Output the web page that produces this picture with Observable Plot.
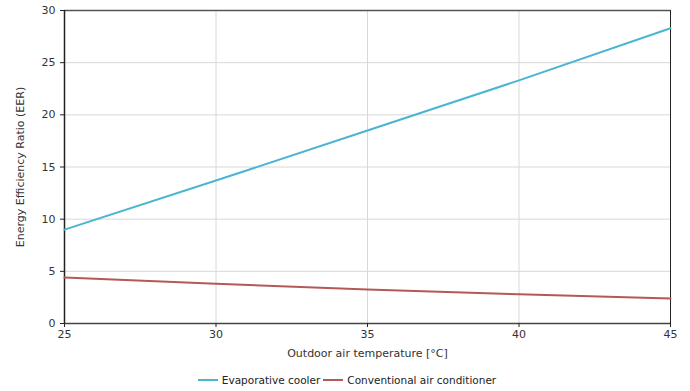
<!DOCTYPE html>
<html><head><meta charset="utf-8">
<script src="https://cdn.jsdelivr.net/npm/d3@7"></script>
<script src="https://cdn.jsdelivr.net/npm/@observablehq/plot@0.6"></script>
<style>
body{margin:0;background:#fff;font-family:"DejaVu Sans",Verdana,sans-serif;}
#legend{display:flex;justify-content:center;gap:3px;font-size:10.5px;color:#222;margin-top:9px;padding-left:4px;}
.item{display:flex;align-items:center;gap:4px;}
.sw{width:20px;height:2px;display:inline-block;}
</style></head><body>
<div id="chart"></div>
<div id="legend"></div>
<script>
const temps = [25, 30, 35, 40, 45];
const evaporative = [9.0, 13.7, 18.5, 23.3, 28.3];
const conventional = [4.4, 3.8, 3.25, 2.8, 2.4];
const seriesNames = ["Evaporative cooler", "Conventional air conditioner"];
const colors = ["#4bb5d0", "#b55858"];
const xTicks = [25, 30, 35, 40, 45];
const yTicks = [0, 5, 10, 15, 20, 25, 30];

const data = [];
temps.forEach((t, i) => data.push({t, v: evaporative[i], s: seriesNames[0]}));
temps.forEach((t, i) => data.push({t, v: conventional[i], s: seriesNames[1]}));

const plot = Plot.plot({
  width: 690, height: 365,
  marginLeft: 64, marginRight: 20, marginTop: 10, marginBottom: 42,
  style: {fontFamily: "DejaVu Sans, Verdana, sans-serif", fontSize: "11px", color: "#333"},
  x: {domain: [25, 45]},
  y: {domain: [0, 30]},
  color: {domain: seriesNames, range: colors},
  marks: [
    Plot.gridX(xTicks.slice(1, -1), {stroke: "#d8d8d8", strokeOpacity: 1}),
    Plot.gridY(yTicks.slice(1, -1), {stroke: "#d8d8d8", strokeOpacity: 1}),
    Plot.ruleY([30], {stroke: "#555", strokeWidth: 1.5}),
    Plot.ruleX([45], {stroke: "#222", strokeWidth: 1}),
    Plot.ruleX([25], {stroke: "#222", strokeWidth: 1.5}),
    Plot.ruleY([0], {stroke: "#444", strokeWidth: 1.5}),
    Plot.line(data, {x: "t", y: "v", stroke: "s", z: "s", strokeWidth: 2}),
    Plot.axisX({ticks: xTicks, tickSize: 4, tickPadding: 3, stroke: "#222",
      label: "Outdoor air temperature [°C]", labelAnchor: "center", labelArrow: "none", labelOffset: 33}),
    Plot.axisY({ticks: yTicks, tickSize: 4, tickPadding: 5, stroke: "#222",
      label: "Energy Efficiency Ratio (EER)", labelAnchor: "center", labelArrow: "none", labelOffset: 48})
  ]
});
document.getElementById("chart").appendChild(plot);

const lg = document.getElementById("legend");
seriesNames.forEach((n, i) => {
  const it = document.createElement("span");
  it.className = "item";
  it.innerHTML = `<span class="sw" style="background:${colors[i]}"></span><span>${n}</span>`;
  lg.appendChild(it);
});
</script>
</body></html>
